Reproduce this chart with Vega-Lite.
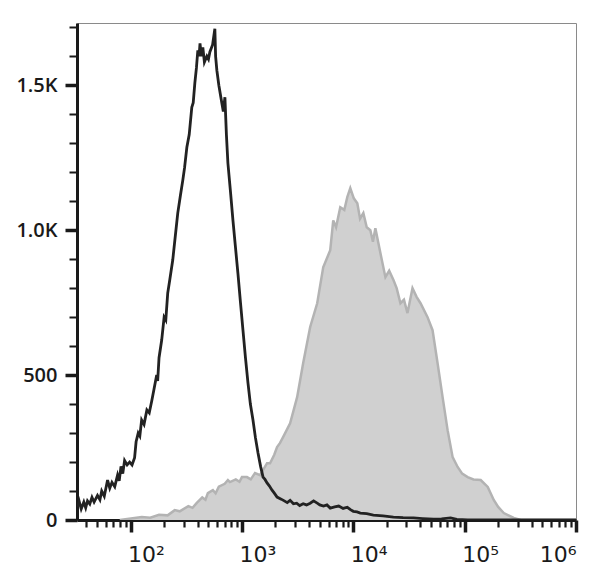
{
  "$schema": "https://vega.github.io/schema/vega-lite/v6.json",
  "autosize": {"type": "none"},
  "padding": {"left": 77, "top": 23, "right": 24, "bottom": 63},
  "width": 499,
  "height": 497,
  "background": "white",
  "config": {
    "view": {"stroke": "#8a8a8a", "strokeWidth": 1},
    "axis": {"grid": false, "domainColor": "#1a1a1a", "domainWidth": 3, "tickColor": "#1a1a1a", "labelColor": "#1a1a1a", "title": null, "labelOverlap": false}
  },
  "datasets": {
    "stained": [
      {"v": 80, "count": 0}, {"v": 126, "count": 10}, {"v": 150, "count": 8}, {"v": 180, "count": 18}, {"v": 215, "count": 16}, {"v": 249, "count": 34}, {"v": 276, "count": 30},
      {"v": 330, "count": 48}, {"v": 360, "count": 42}, {"v": 393, "count": 59}, {"v": 440, "count": 78}, {"v": 470, "count": 70}, {"v": 494, "count": 93}, {"v": 548, "count": 103},
      {"v": 580, "count": 92}, {"v": 620, "count": 115}, {"v": 700, "count": 125}, {"v": 748, "count": 138}, {"v": 780, "count": 131}, {"v": 880, "count": 140},
      {"v": 950, "count": 132}, {"v": 1000, "count": 148}, {"v": 1109, "count": 148}, {"v": 1200, "count": 140}, {"v": 1310, "count": 162}, {"v": 1453, "count": 155},
      {"v": 1560, "count": 175}, {"v": 1680, "count": 196}, {"v": 1788, "count": 196}, {"v": 1950, "count": 225}, {"v": 2067, "count": 252},
      {"v": 2199, "count": 266}, {"v": 2341, "count": 286}, {"v": 2707, "count": 334}, {"v": 3130, "count": 424}, {"v": 3544, "count": 541},
      {"v": 4099, "count": 666}, {"v": 4740, "count": 748}, {"v": 5367, "count": 872}, {"v": 6206, "count": 931}, {"v": 6604, "count": 1034},
      {"v": 7000, "count": 1010}, {"v": 7637, "count": 1079}, {"v": 8300, "count": 1070}, {"v": 8830, "count": 1114}, {"v": 9397, "count": 1145},
      {"v": 10100, "count": 1110}, {"v": 10865, "count": 1093}, {"v": 11500, "count": 1040}, {"v": 12307, "count": 1059}, {"v": 13200, "count": 1010},
      {"v": 14228, "count": 1000}, {"v": 15000, "count": 960}, {"v": 15783, "count": 1007}, {"v": 17511, "count": 921}, {"v": 19423, "count": 838},
      {"v": 21000, "count": 860}, {"v": 22935, "count": 828}, {"v": 24500, "count": 800}, {"v": 26510, "count": 748}, {"v": 28500, "count": 760},
      {"v": 30656, "count": 714}, {"v": 34008, "count": 800}, {"v": 37000, "count": 770}, {"v": 40145, "count": 748}, {"v": 46416, "count": 700},
      {"v": 51483, "count": 655}, {"v": 57125, "count": 541}, {"v": 63370, "count": 424}, {"v": 70290, "count": 310}, {"v": 77970, "count": 217},
      {"v": 86490, "count": 183}, {"v": 95000, "count": 160}, {"v": 106420, "count": 148}, {"v": 120000, "count": 140}, {"v": 139360, "count": 138},
      {"v": 161200, "count": 114}, {"v": 182500, "count": 69}, {"v": 200000, "count": 45}, {"v": 224600, "count": 24}, {"v": 276300, "count": 7},
      {"v": 319600, "count": 0}, {"v": 1000000, "count": 0}
    ],
    "control": [
      {"v": 33.3, "count": 45}, {"v": 34.5, "count": 65}, {"v": 36, "count": 38}, {"v": 38, "count": 62}, {"v": 39.5, "count": 42}, {"v": 41, "count": 66},
      {"v": 43, "count": 55}, {"v": 45, "count": 78}, {"v": 47, "count": 62}, {"v": 50.4, "count": 85}, {"v": 53, "count": 70}, {"v": 55, "count": 100},
      {"v": 58, "count": 82}, {"v": 62.1, "count": 138}, {"v": 65, "count": 110}, {"v": 68, "count": 130}, {"v": 72, "count": 115}, {"v": 76.4, "count": 155},
      {"v": 79, "count": 135}, {"v": 82, "count": 185}, {"v": 85, "count": 160}, {"v": 88.3, "count": 205}, {"v": 93, "count": 190}, {"v": 98, "count": 200},
      {"v": 103, "count": 190}, {"v": 108.6, "count": 215}, {"v": 112, "count": 270}, {"v": 117, "count": 300}, {"v": 121, "count": 290},
      {"v": 125.6, "count": 345}, {"v": 132, "count": 330}, {"v": 140, "count": 380}, {"v": 147, "count": 370}, {"v": 154.6, "count": 410},
      {"v": 162, "count": 450}, {"v": 171.5, "count": 500}, {"v": 175, "count": 480}, {"v": 180, "count": 560},
      {"v": 190.2, "count": 621}, {"v": 200, "count": 700}, {"v": 207, "count": 690}, {"v": 215.4, "count": 783}, {"v": 225, "count": 830}, {"v": 239, "count": 897},
      {"v": 252, "count": 980}, {"v": 265.1, "count": 1059}, {"v": 280, "count": 1120}, {"v": 294.1, "count": 1172}, {"v": 305, "count": 1215},
      {"v": 320, "count": 1286}, {"v": 336, "count": 1330}, {"v": 354.4, "count": 1424}, {"v": 365, "count": 1440}, {"v": 377.2, "count": 1507},
      {"v": 390, "count": 1560}, {"v": 401.5, "count": 1621}, {"v": 412, "count": 1600}, {"v": 420, "count": 1645}, {"v": 432, "count": 1600},
      {"v": 445.3, "count": 1631}, {"v": 460, "count": 1580}, {"v": 484, "count": 1600}, {"v": 500, "count": 1590}, {"v": 515, "count": 1615},
      {"v": 545, "count": 1640}, {"v": 571, "count": 1695}, {"v": 580, "count": 1600}, {"v": 595, "count": 1552}, {"v": 620, "count": 1500},
      {"v": 660, "count": 1438}, {"v": 680, "count": 1410}, {"v": 703, "count": 1459}, {"v": 725, "count": 1330}, {"v": 748, "count": 1231},
      {"v": 790, "count": 1130}, {"v": 830, "count": 1034}, {"v": 870, "count": 950}, {"v": 920, "count": 851}, {"v": 970, "count": 750},
      {"v": 1021, "count": 655}, {"v": 1075, "count": 560}, {"v": 1133, "count": 472}, {"v": 1190, "count": 400}, {"v": 1256, "count": 345},
      {"v": 1320, "count": 285}, {"v": 1394, "count": 231}, {"v": 1470, "count": 185}, {"v": 1546, "count": 148}, {"v": 1610, "count": 140},
      {"v": 1680, "count": 128}, {"v": 1760, "count": 118}, {"v": 1864, "count": 103}, {"v": 1960, "count": 92}, {"v": 2067, "count": 79},
      {"v": 2250, "count": 72}, {"v": 2400, "count": 66}, {"v": 2550, "count": 60}, {"v": 2707, "count": 68}, {"v": 2900, "count": 56},
      {"v": 3100, "count": 58}, {"v": 3300, "count": 50}, {"v": 3544, "count": 56}, {"v": 3800, "count": 52}, {"v": 4100, "count": 58},
      {"v": 4400, "count": 66}, {"v": 4740, "count": 58}, {"v": 5000, "count": 52}, {"v": 5400, "count": 48}, {"v": 5800, "count": 52},
      {"v": 6206, "count": 41}, {"v": 6800, "count": 45}, {"v": 7400, "count": 48}, {"v": 8100, "count": 40}, {"v": 8830, "count": 44},
      {"v": 9500, "count": 35}, {"v": 10000, "count": 30}, {"v": 10800, "count": 28}, {"v": 11565, "count": 24}, {"v": 13200, "count": 22},
      {"v": 15144, "count": 17}, {"v": 18500, "count": 14}, {"v": 22935, "count": 10}, {"v": 28000, "count": 8}, {"v": 34724, "count": 7},
      {"v": 42000, "count": 5}, {"v": 52574, "count": 3}, {"v": 62000, "count": 4}, {"v": 74795, "count": 7}, {"v": 85000, "count": 2},
      {"v": 106420, "count": 0}, {"v": 1000000, "count": 0}
    ]
  },
  "encoding": {
    "x": {"field": "v", "type": "quantitative",
      "scale": {"type": "log", "domain": [33, 1000000], "nice": false},
      "axis": {
        "values": [40,50,60,70,80,90,100,200,300,400,500,600,700,800,900,1000,2000,3000,4000,5000,6000,7000,8000,9000,10000,20000,30000,40000,50000,60000,70000,80000,90000,100000,200000,300000,400000,500000,600000,700000,800000,900000,1000000],
        "labelExpr": "datum.value == 100 ? '10²' : datum.value == 1000 ? '10³' : datum.value == 10000 ? '10⁴' : datum.value == 100000 ? '10⁵' : datum.value == 1000000 ? '10⁶' : ''",
        "labelFont": "DejaVu Sans",
        "labelFontSize": 22,
        "labelPadding": 12,
        "labelOffset": {"condition": {"test": "datum.value >= 1000000", "value": 0}, "value": -3},
        "labelAlign": {"condition": {"test": "datum.value >= 1000000", "value": "right"}, "value": "left"},
        "labelOverlap": false,
        "tickSize": {"condition": {"test": "datum.value == 100 || datum.value == 1000 || datum.value == 10000 || datum.value == 100000 || datum.value == 1000000", "value": 12}, "value": 7},
        "tickWidth": {"condition": {"test": "datum.value == 100 || datum.value == 1000 || datum.value == 10000 || datum.value == 100000 || datum.value == 1000000", "value": 3.5}, "value": 2.2}
      }
    },
    "y": {"field": "count", "type": "quantitative",
      "scale": {"domain": [0, 1715], "nice": false},
      "axis": {
        "values": [0,100,200,300,400,500,600,700,800,900,1000,1100,1200,1300,1400,1500,1600,1700],
        "labelExpr": "datum.value == 0 ? '0' : datum.value == 500 ? '500' : datum.value == 1000 ? '1.0K' : datum.value == 1500 ? '1.5K' : ''",
        "labelFont": "Open Sans",
        "labelFontWeight": 600,
        "labelFontSize": 20,
        "labelPadding": 8,
        "labelOverlap": false,
        "tickSize": {"condition": {"test": "datum.value % 500 == 0", "value": 12}, "value": 8},
        "tickWidth": {"condition": {"test": "datum.value % 500 == 0", "value": 3.5}, "value": 2}
      }
    }
  },
  "layer": [
    {
      "data": {"name": "stained"},
      "mark": {"type": "area", "color": "#d0d0d0", "opacity": 1, "clip": true, "line": {"color": "#b3b3b3", "strokeWidth": 2.5}}
    },
    {
      "data": {"name": "control"},
      "mark": {"type": "line", "color": "#222222", "strokeWidth": 2.8, "clip": true}
    }
  ]
}
